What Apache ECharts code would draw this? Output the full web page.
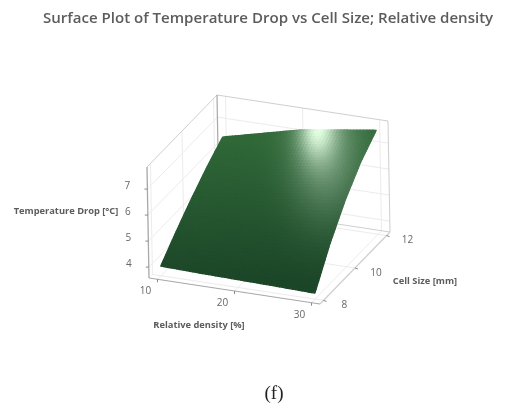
<!DOCTYPE html>
<html><head><meta charset="utf-8">
<style>html,body{margin:0;padding:0;background:#fff}#c{width:506px;height:410px;filter:blur(0.6px)}</style>
<script src="https://cdn.jsdelivr.net/npm/echarts@6/dist/echarts.min.js"></script>
</head><body><div id="c"></div>
<script>
// Data
const relativeDensity = [10, 15, 20, 25, 30];
const cellSize = [8, 9, 10, 11, 12];
const tempDrop = [
  [3.95, 3.91, 3.88, 3.85, 3.81],
  [4.66, 4.77, 4.88, 5.00, 5.10],
  [5.31, 5.55, 5.76, 5.97, 6.15],
  [5.90, 6.21, 6.51, 6.76, 6.98],
  [6.42, 6.78, 7.14, 7.37, 7.58]
];
const xTicks = [10, 20, 30];
const yTicks = [8, 10, 12];
const zTicks = [4, 5, 6, 7];
const xRange = [8.9, 31.1], yRange = [7.78, 12.22], zRange = [3.58, 7.85];

// Oblique view of the 3D box onto a 2D value plane
const O = [149, 278], VX = [171, 26], VY = [70, -72], VZ = [-2, -111];
function proj(x, y, z) {
  const a = (x - xRange[0]) / (xRange[1] - xRange[0]);
  const b = (y - yRange[0]) / (yRange[1] - yRange[0]);
  const c = (z - zRange[0]) / (zRange[1] - zRange[0]);
  return [O[0] + a * VX[0] + b * VY[0] + c * VZ[0], O[1] + a * VX[1] + b * VY[1] + c * VZ[1]];
}
const [x0, x1] = xRange, [y0, y1] = yRange, [z0, z1] = zRange;
const GRID = '#ececec', EDGE = '#cfcfcf', AXIS = '#a8a8a8', TICK = '#8a8a8a';
const segs = [];
function seg(a, b, c, w) { segs.push([...a, ...b, c, w]); }
xTicks.forEach(x => { seg([x, y0, z0], [x, y1, z0], GRID, 1); seg([x, y1, z0], [x, y1, z1], GRID, 1); });
yTicks.forEach(y => { seg([x0, y, z0], [x1, y, z0], GRID, 1); seg([x0, y, z0], [x0, y, z1], GRID, 1); });
zTicks.forEach(z => { seg([x0, y0, z], [x0, y1, z], GRID, 1); seg([x0, y1, z], [x1, y1, z], GRID, 1); });
seg([x0, y0, z1], [x0, y1, z1], EDGE, 1);
seg([x0, y1, z1], [x1, y1, z1], EDGE, 1);
seg([x1, y1, z0], [x1, y1, z1], EDGE, 1);
seg([x0, y1, z0], [x0, y1, z1], AXIS, 1.2);
seg([x0, y1, z0], [x1, y1, z0], EDGE, 1.2);
seg([x0, y0, z0], [x0, y0, z1], AXIS, 1.3);
seg([x0, y0, z0], [x1, y0, z0], AXIS, 1.2);
seg([x1, y0, z0], [x1, y1, z0], EDGE, 1.2);

const tickSegs = [];
xTicks.forEach(x => tickSegs.push([x, y0, z0, 0, 3]));
yTicks.forEach(y => tickSegs.push([x1, y, z0, 3, 1]));
zTicks.forEach(z => tickSegs.push([x0, y0, z, -3, 0]));

// Subdivide the read grid for smooth painting only
const SUB = 12, cells = [];
function surf(i, j) {
  const u = i / SUB, v = j / SUB;
  const a = Math.min(Math.floor(u), relativeDensity.length - 2), b = Math.min(Math.floor(v), cellSize.length - 2);
  const s = u - a, t = v - b;
  const z = (1 - t) * ((1 - s) * tempDrop[b][a] + s * tempDrop[b][a + 1]) + t * ((1 - s) * tempDrop[b + 1][a] + s * tempDrop[b + 1][a + 1]);
  const x = relativeDensity[a] + s * (relativeDensity[a + 1] - relativeDensity[a]);
  const y = cellSize[b] + t * (cellSize[b + 1] - cellSize[b]);
  return proj(x, y, z);
}
const N = SUB * (relativeDensity.length - 1), M = SUB * (cellSize.length - 1);
for (let i = 0; i < N; i++) for (let j = 0; j < M; j++) cells.push([i, j]);

function shade(px, py) {
  const t = Math.max(0, Math.min(1, (280 - py) / 140));
  let c = [28 + 20 * t, 70 + 34 * t, 40 + 16 * t];
  const s2 = 0.6 * Math.exp(-Math.pow((px - 326) / 34, 2) - Math.pow((py - 150) / 62, 2));
  c = c.map((v, k) => v + ([160, 190, 165][k] - v) * s2);
  const s1 = Math.exp(-Math.pow((px - 319) / 17, 2) - Math.pow((py - 128) / 30, 2));
  c = c.map((v, k) => v + ([226, 255, 226][k] - v) * s1);
  return 'rgb(' + c.map(Math.round).join(',') + ')';
}

const chart = echarts.init(document.getElementById('c'), null, { renderer: 'canvas' });
const FONT = '"Open Sans", sans-serif';
const textG = (x, y, t, size, weight, color, align, family) => ({
  type: 'text', x, y,
  style: { text: t, fontSize: size, fontWeight: weight, fill: color, fontFamily: family || FONT, align: align || 'center', verticalAlign: 'middle' }
});
chart.setOption({
  animation: false,
  backgroundColor: '#fff',
  title: {
    text: 'Surface Plot of Temperature Drop vs Cell Size; Relative density',
    left: 38, top: 6,
    textStyle: { fontFamily: FONT, fontSize: 15.05, fontWeight: 600, color: '#5c5c5c' }
  },
  grid: { left: 0, right: 0, top: 0, bottom: 0 },
  xAxis: { type: 'value', min: 0, max: 506, show: false },
  yAxis: { type: 'value', min: 0, max: 410, inverse: true, show: false },
  series: [
    {
      type: 'custom', coordinateSystem: 'cartesian2d', silent: true, clip: false, z: 1,
      data: segs.map((_, i) => [i]),
      renderItem(p, api) {
        const s = segs[api.value(0)];
        const a = api.coord(proj(s[0], s[1], s[2])), b = api.coord(proj(s[3], s[4], s[5]));
        return { type: 'line', shape: { x1: a[0], y1: a[1], x2: b[0], y2: b[1] }, style: { stroke: s[6], lineWidth: s[7] } };
      }
    },
    {
      type: 'custom', coordinateSystem: 'cartesian2d', silent: true, clip: false, z: 2,
      data: tickSegs.map((_, i) => [i]),
      renderItem(p, api) {
        const s = tickSegs[api.value(0)];
        const a = api.coord(proj(s[0], s[1], s[2]));
        return { type: 'line', shape: { x1: a[0], y1: a[1], x2: a[0] + s[3], y2: a[1] + s[4] }, style: { stroke: TICK, lineWidth: 1 } };
      }
    },
    {
      type: 'custom', coordinateSystem: 'cartesian2d', silent: true, clip: false, z: 3,
      progressive: 0,
      data: cells,
      renderItem(p, api) {
        const i = api.value(0), j = api.value(1);
        const q = [surf(i, j), surf(i + 1, j), surf(i + 1, j + 1), surf(i, j + 1)];
        const pts = q.map(v => api.coord(v));
        const mx = (q[0][0] + q[2][0]) / 2, my = (q[0][1] + q[2][1]) / 2;
        const col = shade(mx, my);
        return { type: 'polygon', shape: { points: pts }, style: { fill: col, stroke: col, lineWidth: 1.3, lineJoin: 'round' } };
      }
    }
  ],
  graphic: { elements: [
    ...xTicks.map(v => { const q = proj(v, y0, z0); return textG(q[0] - 12, q[1] + 12, String(v), 10, 400, '#666'); }),
    ...yTicks.map(v => { const q = proj(x1, v, z0); return textG(q[0] + 21, q[1] + 5, String(v), 10, 400, '#666'); }),
    ...zTicks.map(v => { const q = proj(x0, y0, v); return textG(q[0] - 20, q[1] - 3, String(v), 10, 400, '#666'); }),
    textG(66, 211, 'Temperature Drop [°C]', 9.3, 700, '#5c5c5c'),
    textG(199, 325, 'Relative density [%]', 9.3, 700, '#5c5c5c'),
    textG(425, 281, 'Cell Size [mm]', 9.3, 700, '#5c5c5c'),
    textG(274, 394, '(f)', 19, 400, '#222', 'center', '"Liberation Serif", serif')
  ] }
});
</script></body></html>
